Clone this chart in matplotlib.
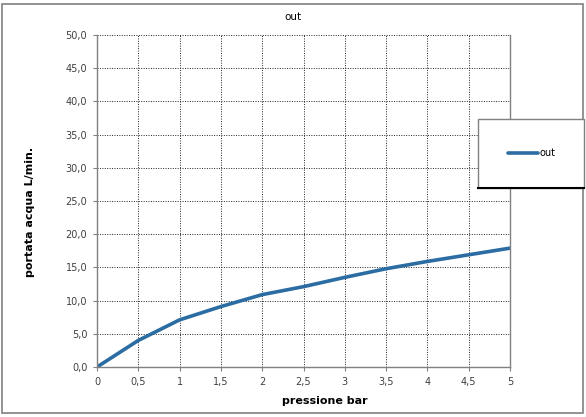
import matplotlib
matplotlib.use("Agg")
import matplotlib.pyplot as plt
from matplotlib.patches import Rectangle
from matplotlib.lines import Line2D

pressione = [0, 0.5, 1, 1.5, 2, 2.5, 3, 3.5, 4, 4.5, 5]
portata = [0.0, 4.0, 7.1, 9.1, 10.9, 12.1, 13.5, 14.8, 15.9, 16.9, 17.9]
x_ticks = [0, 0.5, 1, 1.5, 2, 2.5, 3, 3.5, 4, 4.5, 5]
x_labels = ["0", "0,5", "1", "1,5", "2", "2,5", "3", "3,5", "4", "4,5", "5"]
y_ticks = [0, 5, 10, 15, 20, 25, 30, 35, 40, 45, 50]
y_labels = ["0,0", "5,0", "10,0", "15,0", "20,0", "25,0", "30,0", "35,0", "40,0", "45,0", "50,0"]

W, H = 586, 417
fig = plt.figure(figsize=(W / 100, H / 100), dpi=100)
plt.rcParams['font.family'] = ['DejaVu Sans']

# outer border
fig.patches.append(Rectangle((2 / W, 1 - 413 / H), 581 / W, 409 / H, transform=fig.transFigure,
                             fill=False, edgecolor="#808080", linewidth=1.2))

ax = fig.add_axes([97 / W, 1 - 367 / H, (510 - 97) / W, (367 - 35) / H])
line, = ax.plot(pressione, portata, color="#2b6ca3", linewidth=2.6, label="out", solid_capstyle="round")
ax.set_xlim(0, 5)
ax.set_ylim(0, 50)
ax.set_xticks(x_ticks)
ax.set_xticklabels(x_labels)
ax.set_yticks(y_ticks)
ax.set_yticklabels(y_labels)
ax.tick_params(axis="both", labelsize=7, colors="#404040", length=3, width=0.8, direction="out", pad=4)
ax.tick_params(axis="both", color="#808080")
ax.grid(True, color="#222222", linestyle=(0, (1, 1.5)), linewidth=0.7)
for s in ["left", "bottom", "right"]:
    ax.spines[s].set_color("#808080")
    ax.spines[s].set_linewidth(1.0)
ax.spines["top"].set_visible(False)
ax.set_axisbelow(True)

fig.text(293 / W, 1 - 17 / H, "out", ha="center", va="center", fontsize=7.5)
fig.text(325 / W, 1 - 401 / H, "pressione bar", ha="center", va="center", fontsize=8, fontweight="bold")
fig.text(30 / W, 1 - 212 / H, "portata acqua L/min.", ha="center", va="center", rotation=90,
         fontsize=8, fontweight="bold")

# legend box
lx0, ly0, lx1, ly1 = 478, 119, 584, 188
fig.patches.append(Rectangle((lx0 / W, 1 - ly1 / H), (lx1 - lx0) / W, (ly1 - ly0) / H,
                             transform=fig.transFigure, facecolor="white", edgecolor="#808080",
                             linewidth=1.0, zorder=5))
fig.lines.append(Line2D([lx0 / W, lx1 / W], [1 - ly1 / H, 1 - ly1 / H], transform=fig.transFigure,
                        color="black", linewidth=1.5, zorder=6))
leg = fig.legend(handles=[line], labels=["out"], loc="center", bbox_to_anchor=(532 / W, 1 - 153 / H),
                 bbox_transform=fig.transFigure, frameon=False, fontsize=7,
                 handlelength=3.0, handletextpad=0.2)
leg.set_zorder(10)

fig.savefig("out.png", dpi=100)
